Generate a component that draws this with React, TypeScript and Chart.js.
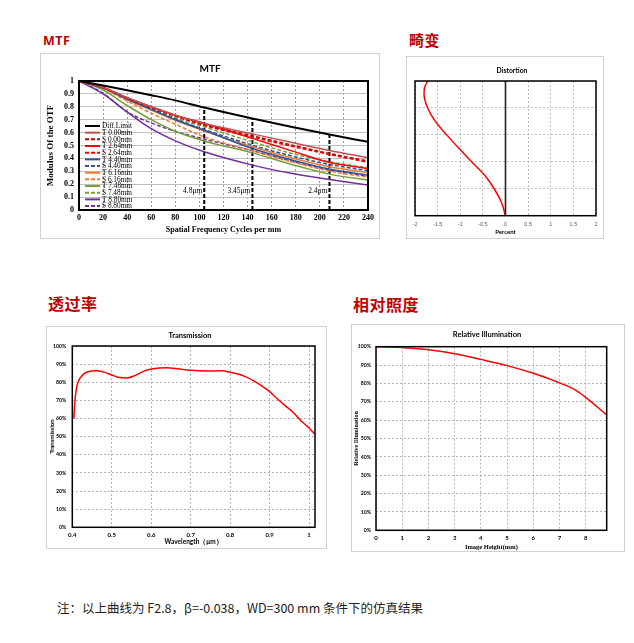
import React, { useEffect, useRef } from 'react';
import { Chart, registerables } from 'chart.js';
Chart.register(...registerables);

const SERIF = '"Liberation Serif", "Times New Roman", serif';
const SANS = '"Liberation Sans", Arial, sans-serif';
const LATO = 'Lato, "Noto Sans", sans-serif';
const CJK = '"Noto Sans CJK SC", "Noto Sans", sans-serif';

// ---------------- MTF data ----------------
const mtfFreq = [0, 20, 40, 60, 80, 104, 144, 176, 208, 240];
const diffLimit = [1, 0.965, 0.928, 0.89, 0.85, 0.794, 0.709, 0.645, 0.585, 0.528];
const t000 = [1, 0.95, 0.87, 0.8, 0.735, 0.67, 0.59, 0.525, 0.462, 0.405];
const s000 = [1, 0.95, 0.87, 0.795, 0.73, 0.662, 0.575, 0.505, 0.438, 0.38];
const t264 = [1, 0.95, 0.87, 0.8, 0.735, 0.672, 0.555, 0.46, 0.368, 0.322];
const s264 = [1, 0.95, 0.868, 0.795, 0.728, 0.655, 0.565, 0.495, 0.43, 0.37];
const t440 = [1, 0.945, 0.86, 0.78, 0.7, 0.618, 0.477, 0.39, 0.317, 0.27];
const s440 = [1, 0.945, 0.862, 0.785, 0.705, 0.624, 0.503, 0.42, 0.353, 0.305];
const t616 = [1, 0.945, 0.855, 0.775, 0.695, 0.613, 0.49, 0.405, 0.335, 0.289];
const s616 = [1, 0.94, 0.845, 0.75, 0.665, 0.567, 0.459, 0.375, 0.302, 0.253];
const t748 = [1, 0.93, 0.81, 0.7, 0.61, 0.535, 0.443, 0.355, 0.278, 0.232];
const s748 = [1, 0.948, 0.865, 0.79, 0.715, 0.644, 0.528, 0.44, 0.374, 0.327];
const t880 = [1, 0.9, 0.76, 0.63, 0.536, 0.451, 0.348, 0.285, 0.237, 0.193];
const s880 = [1, 0.905, 0.76, 0.675, 0.61, 0.55, 0.459, 0.38, 0.31, 0.262];

const mtfSeries = [diffLimit, t000, s000, t264, s264, t440, s440, t616, s616, t748, s748, t880, s880];
const mtfLabels = ['Diff.Limit', 'T 0.00mm', 'S 0.00mm', 'T 2.64mm', 'S 2.64mm', 'T 4.40mm', 'S 4.40mm',
  'T 6.16mm', 'S 6.16mm', 'T 7.48mm', 'S 7.48mm', 'T 8.80mm', 'S 8.80mm'];
const mtfColors = ['#000000', '#C0504D', '#C00000', '#FF0000', '#FF0000', '#2F5597', '#2F5597',
  '#ED7D31', '#ED7D31', '#77A03A', '#77A03A', '#7030A0', '#7030A0'];
const mtfDashed = [false, false, true, false, true, false, true, false, true, false, true, false, true];

const markerFreqs = [104, 144, 208];
const markerLabels = ['4.8μm', '3.45μm', '2.4μm'];
const markerLabelLevel = 0.15;

// ---------------- Distortion data ----------------
const distField = [0, 0.1, 0.2, 0.3, 0.4, 0.5, 0.6, 0.7, 0.8, 0.9, 0.95, 1.0];
const distPercent = [0, -0.09, -0.25, -0.46, -0.75, -1.03, -1.3, -1.55, -1.72, -1.8, -1.79, -1.72];

// ---------------- Transmission data ----------------
const wavelength = [0.404, 0.406, 0.41, 0.415, 0.42, 0.43, 0.44, 0.46, 0.48, 0.5, 0.52, 0.54, 0.56, 0.58, 0.6,
  0.62, 0.64, 0.66, 0.7, 0.74, 0.78, 0.8, 0.82, 0.84, 0.86, 0.88, 0.9, 0.92, 0.94, 0.96, 0.98, 1.0, 1.015];
const transmission = [59.8, 68, 76, 80.2, 82.4, 84.8, 85.8, 86.3, 85.6, 84, 82.6, 82.4, 83.8, 86, 87.3,
  87.9, 88, 87.6, 86.6, 86.2, 86.3, 85.5, 84.6, 83, 80.8, 78, 74.8, 70.8, 67, 63.3, 58.6, 54.8, 51.3];

// ---------------- Relative illumination data ----------------
const imageHeight = [0, 0.5, 1, 2, 3, 4, 5, 6, 7, 7.6, 8, 8.8];
const relIllum = [100, 99.9, 99.5, 98.3, 96.2, 93.1, 89.7, 85.5, 80.3, 76.5, 72.4, 62.8];

// ---------------- helpers ----------------
const pts = (xs: number[], ys: number[]) => xs.map((x, i) => ({ x, y: ys[i] }));
const fmt1 = (v: any) => String(Math.round(Number(v) * 10) / 10);
const pct = (v: any) => `${Math.round(Number(v))}%`;

function decor(title: string, tx: number, ty: number, font: string, frameW: number) {
  return {
    id: 'decor',
    afterDraw(chart: any) {
      const { ctx, chartArea: a } = chart;
      ctx.save();
      ctx.strokeStyle = '#000';
      ctx.lineWidth = frameW;
      ctx.strokeRect(a.left, a.top, a.right - a.left, a.bottom - a.top);
      ctx.fillStyle = '#000';
      ctx.font = font;
      ctx.textAlign = 'center';
      ctx.textBaseline = 'middle';
      ctx.fillText(title, tx, ty);
      ctx.restore();
    },
  };
}

const mtfExtras = {
  id: 'mtfExtras',
  afterDatasetsDraw(chart: any) {
    const { ctx, chartArea: a, scales } = chart;
    ctx.save();
    ctx.fillStyle = '#000';
    ctx.font = `7.5px ${SERIF}`;
    ctx.textAlign = 'right';
    ctx.textBaseline = 'middle';
    markerFreqs.forEach((f, i) => {
      ctx.fillText(markerLabels[i], scales.x.getPixelForValue(f) - 2, scales.y.getPixelForValue(markerLabelLevel));
    });
    const lx = a.left + 6;
    const tx = lx + 17;
    let y = a.top + 45;
    ctx.textAlign = 'left';
    ctx.font = `7.3px ${SERIF}`;
    for (let i = 0; i < mtfLabels.length; i++) {
      const ds = chart.data.datasets[i];
      ctx.strokeStyle = ds.borderColor;
      ctx.lineWidth = 2;
      ctx.setLineDash(ds.borderDash || []);
      ctx.beginPath();
      ctx.moveTo(lx, y);
      ctx.lineTo(lx + 15, y);
      ctx.stroke();
      ctx.setLineDash([]);
      ctx.fillText(ds.label, tx, y + 0.5);
      y += 6.67;
    }
    ctx.restore();
  },
};

const baseOpts = {
  animation: false,
  responsive: false,
  devicePixelRatio: 1,
  plugins: { legend: { display: false }, title: { display: false }, tooltip: { enabled: false } },
  elements: { point: { radius: 0 } },
};

function mtfConfig(): any {
  const datasets: any[] = mtfSeries.map((s, i) => ({
    label: mtfLabels[i],
    data: pts(mtfFreq, s),
    borderColor: mtfColors[i],
    borderWidth: i === 0 ? 2 : 1.5,
    borderDash: mtfDashed[i] ? [4, 2] : [],
    cubicInterpolationMode: 'monotone',
    fill: false,
  }));
  markerFreqs.forEach((f) => {
    const top = diffLimit[mtfFreq.indexOf(f)];
    datasets.push({
      label: '',
      data: [{ x: f, y: 0 }, { x: f, y: top }],
      borderColor: '#000',
      borderWidth: 2,
      borderDash: [4, 2],
      fill: false,
    });
  });
  return {
    type: 'line',
    data: { datasets },
    options: {
      ...baseOpts,
      layout: { padding: { left: 0, top: 27, right: 11, bottom: 0 } },
      scales: {
        x: {
          type: 'linear', min: 0, max: 240,
          ticks: { stepSize: 20, padding: 3, color: '#000', maxRotation: 0, autoSkip: false,
            font: { family: SERIF, size: 8, weight: 'bold' } },
          grid: { color: '#808080', lineWidth: 0.8, drawTicks: false },
          border: { display: false, dash: [2, 2] },
          title: { display: true, text: 'Spatial Frequency Cycles per mm', color: '#000',
            font: { family: SERIF, size: 8, weight: 'bold' }, padding: { top: 0, bottom: 3 } },
          afterFit: (s: any) => { s.height = 28; },
        },
        y: {
          type: 'linear', min: 0, max: 1,
          ticks: { stepSize: 0.1, padding: 5, color: '#000', callback: fmt1,
            font: { family: SERIF, size: 8, weight: 'bold' } },
          grid: { color: '#c0c0c0', lineWidth: 1, drawTicks: false },
          border: { display: false },
          title: { display: true, text: 'Modulus Of the OTF', color: '#000',
            font: { family: SERIF, size: 9, weight: 'bold' }, padding: { top: 4.5, bottom: 0 } },
          afterFit: (s: any) => { s.width = 38; },
        },
      },
    },
    plugins: [decor('MTF', 169, 15, `bold 10px ${LATO}`, 2), mtfExtras],
  };
}

function distortionConfig(): any {
  return {
    type: 'line',
    data: {
      datasets: [
        { label: 'zero', data: [{ x: 0, y: 0 }, { x: 0, y: 1 }], borderColor: '#222', borderWidth: 1.6, fill: false },
        { label: 'Distortion', data: pts(distPercent, distField), borderColor: '#FF0000',
          borderWidth: 1.5, cubicInterpolationMode: 'monotone', fill: false },
      ],
    },
    options: {
      ...baseOpts,
      indexAxis: 'y',
      layout: { padding: { left: 8, top: 24, right: 7, bottom: 0 } },
      scales: {
        x: {
          type: 'linear', position: 'bottom', min: -2, max: 2,
          ticks: { stepSize: 0.5, padding: 5, color: '#595959', callback: fmt1, maxRotation: 0, autoSkip: false,
            font: { family: SANS, size: 5.5 } },
          grid: { color: '#b0b0b0', lineWidth: 0.8, drawTicks: false },
          border: { display: false, dash: [2, 2] },
          title: { display: true, text: 'Percent', color: '#000',
            font: { family: LATO, size: 6, weight: 'bold' }, padding: { top: 0, bottom: 2 } },
          afterFit: (s: any) => { s.height = 22.3; },
        },
        y: {
          type: 'linear', position: 'left', min: 0, max: 1,
          ticks: { stepSize: 0.2, display: false },
          grid: { color: '#b0b0b0', lineWidth: 0.8, drawTicks: false },
          border: { display: false, dash: [2, 2] },
          afterFit: (s: any) => { s.width = 0; },
        },
      },
    },
    plugins: [decor('Distortion', 105, 14, `bold 6.8px ${LATO}`, 1.5)],
  };
}

function transmissionConfig(): any {
  return {
    type: 'line',
    data: {
      datasets: [
        { label: 'Transmission', data: pts(wavelength, transmission), borderColor: '#FF0000', borderWidth: 1.5,
          cubicInterpolationMode: 'monotone', fill: false },
      ],
    },
    options: {
      ...baseOpts,
      layout: { padding: { left: 0, top: 19, right: 11, bottom: 0 } },
      scales: {
        x: {
          type: 'linear', min: 0.4, max: 1.015,
          ticks: { stepSize: 0.1, includeBounds: false, padding: 4, color: '#000', callback: fmt1, maxRotation: 0,
            autoSkip: false, font: { family: LATO, size: 6, weight: 'bold' } },
          grid: { color: '#a0a0a0', lineWidth: 0.8, drawTicks: false },
          border: { display: false, dash: [2, 2] },
          title: { display: true, text: 'Wavelength（μm）', color: '#000',
            font: { family: LATO, size: 6.5, weight: 'bold' }, padding: { top: 0, bottom: 1.8 } },
          afterFit: (s: any) => { s.height = 20.7; },
        },
        y: {
          type: 'linear', min: 0, max: 100,
          ticks: { stepSize: 10, padding: 6, color: '#000', callback: pct,
            font: { family: LATO, size: 5.2, weight: 'bold' } },
          grid: { color: '#a0a0a0', lineWidth: 0.8, drawTicks: false },
          border: { display: false, dash: [2, 2] },
          title: { display: true, text: 'Transmission', color: '#000',
            font: { family: LATO, size: 6, weight: 'bold' }, padding: { top: 1, bottom: 0 } },
          afterFit: (s: any) => { s.width = 25.3; },
        },
      },
    },
    plugins: [decor('Transmission', 143, 8.5, `bold 7.5px ${LATO}`, 1.5)],
  };
}

function illuminationConfig(): any {
  return {
    type: 'line',
    data: {
      datasets: [
        { label: 'Relative Illumination', data: pts(imageHeight, relIllum), borderColor: '#FF0000', borderWidth: 1.5,
          cubicInterpolationMode: 'monotone', fill: false },
      ],
    },
    options: {
      ...baseOpts,
      layout: { padding: { left: 0, top: 21.7, right: 17.3, bottom: 0 } },
      scales: {
        x: {
          type: 'linear', min: 0, max: 8.8,
          ticks: { stepSize: 1, includeBounds: false, padding: 4, color: '#000', callback: fmt1, maxRotation: 0,
            autoSkip: false, font: { family: LATO, size: 6, weight: 'bold' } },
          grid: { color: '#a0a0a0', lineWidth: 0.8, drawTicks: false },
          border: { display: false, dash: [2, 2] },
          title: { display: true, text: 'Image Height(mm)', color: '#000',
            font: { family: SERIF, size: 6.5, weight: 'bold' }, padding: { top: 0, bottom: 0 } },
          afterFit: (s: any) => { s.height = 20.7; },
        },
        y: {
          type: 'linear', min: 0, max: 100,
          ticks: { stepSize: 10, padding: 5, color: '#000', callback: pct,
            font: { family: LATO, size: 5.2, weight: 'bold' } },
          grid: { color: '#a0a0a0', lineWidth: 0.8, drawTicks: false },
          border: { display: false, dash: [2, 2] },
          title: { display: true, text: 'Relative Illumination', color: '#000',
            font: { family: SERIF, size: 6, weight: 'bold' }, padding: { top: 1, bottom: 0 } },
          afterFit: (s: any) => { s.width = 24; },
        },
      },
    },
    plugins: [decor('Relative Illumination', 135, 9.7, `bold 7.5px ${LATO}`, 1.5)],
  };
}

function ChartPanel(props: { left: number; top: number; width: number; height: number; make: () => any }) {
  const { left, top, width, height, make } = props;
  const ref = useRef<HTMLCanvasElement>(null);
  useEffect(() => {
    const chart = new Chart(ref.current as HTMLCanvasElement, make());
    return () => chart.destroy();
  }, []);
  return (
    <div style={{ position: 'absolute', left, top, width, height, outline: '1px solid #d0d0d0', background: '#fff' }}>
      <canvas ref={ref} width={width} height={height} style={{ display: 'block', width, height }} />
    </div>
  );
}

const headStyle = (left: number, top: number, size: number, family: string): React.CSSProperties => ({
  position: 'absolute', left, top, fontSize: size, lineHeight: 1, fontWeight: 'bold', color: '#C00000',
  fontFamily: family, whiteSpace: 'nowrap', letterSpacing: 0.5,
});

export default function App() {
  return (
    <div style={{ position: 'absolute', left: 0, top: 0, width: 634, height: 643, background: '#fff', overflow: 'hidden' }}>
      <div style={headStyle(43, 34.5, 12.5, '"Noto Sans", sans-serif')}>MTF</div>
      <div style={headStyle(409, 32, 15, CJK)}>畸变</div>
      <div style={headStyle(48, 295, 16, CJK)}>透过率</div>
      <div style={headStyle(353, 295.5, 16, CJK)}>相对照度</div>

      <ChartPanel left={41} top={54} width={338} height={184} make={mtfConfig} />
      <ChartPanel left={407} top={57} width={196} height={181} make={distortionConfig} />
      <ChartPanel left={47} top={327} width={279} height={221} make={transmissionConfig} />
      <ChartPanel left={352} top={325} width={272} height={226} make={illuminationConfig} />

      <div style={{ position: 'absolute', left: 57, top: 602, fontSize: 12.5, lineHeight: 1, color: '#222',
        fontFamily: CJK, whiteSpace: 'nowrap' }}>
        注：以上曲线为 F2.8，β=-0.038，WD=300 mm 条件下的仿真结果
      </div>
    </div>
  );
}
